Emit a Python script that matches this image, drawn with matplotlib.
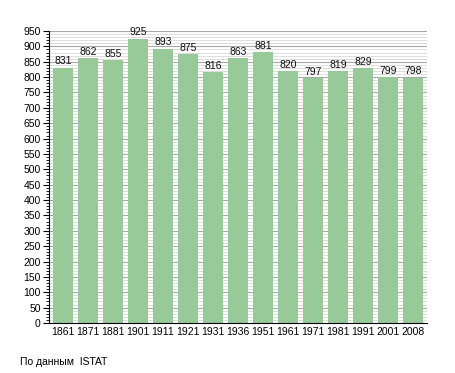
import matplotlib
matplotlib.use("Agg")
import matplotlib.pyplot as plt
from matplotlib.ticker import MultipleLocator

years = ["1861", "1871", "1881", "1901", "1911", "1921", "1931", "1936",
         "1951", "1961", "1971", "1981", "1991", "2001", "2008"]
population = [831, 862, 855, 925, 893, 875, 816, 863, 881, 820, 797, 819, 829, 799, 798]

plt.rcParams['font.family'] = ['Liberation Sans', 'DejaVu Sans']

fig = plt.figure(figsize=(4.55, 3.73), dpi=100)
ax = fig.add_axes([49/455, 1 - 323/373, (427-49)/455, (323-31)/373])

x = list(range(len(years)))
ax.bar(x, population, width=0.82, color='#98c998', zorder=3)
for xi, v in zip(x, population):
    ax.text(xi, v + 4, str(v), ha='center', va='bottom', fontsize=7.5, color='#111111', zorder=4)

ax.set_xlim(-0.55, len(years) - 0.45)
ax.set_ylim(0, 950)
ax.yaxis.set_major_locator(MultipleLocator(50))
ax.yaxis.set_minor_locator(MultipleLocator(10))
ax.grid(which='major', axis='y', color='#a8a8a8', linewidth=0.8, zorder=1)
ax.grid(which='minor', axis='y', color='#d8d8d8', linewidth=0.6, zorder=0)
ax.set_xticks(x)
ax.set_xticklabels(years)
ax.tick_params(axis='x', length=0, labelsize=7.5, pad=3)
ax.tick_params(axis='y', which='major', length=4, direction='out', labelsize=7.5, pad=2)
ax.tick_params(axis='y', which='minor', length=2, direction='out')
for s in ['top', 'right']:
    ax.spines[s].set_visible(False)
ax.spines['left'].set_color('black')
ax.spines['bottom'].set_color('black')
ax.spines['left'].set_zorder(5)
ax.spines['bottom'].set_zorder(5)

fig.text(20/455, 1 - 362/373, "По данным  ISTAT", fontsize=7.5, va='center', ha='left')

fig.savefig("out.png", dpi=100)
